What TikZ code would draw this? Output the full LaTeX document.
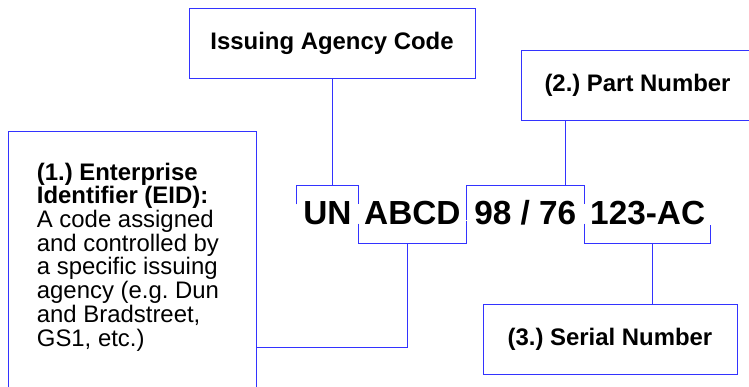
\documentclass[tikz,border=0pt]{standalone}
\usepackage{fontspec}
\setmainfont{Liberation Sans}
\usepackage{tikz}
\usetikzlibrary{positioning}
\definecolor{LBlue}{HTML}{3333FF}

\begin{document}
\frenchspacing
\begin{tikzpicture}[x=1bp,y=-1bp,
  box/.style={draw=LBlue,line width=1bp,minimum height=70bp,inner sep=0pt,
    font=\fontsize{24}{28}\selectfont\bfseries},
  code/.style={minimum height=58bp,inner sep=0pt,text height=23bp,text depth=3bp,
    font=\fontsize{33.5}{36}\selectfont\bfseries},
  wire/.style={draw=LBlue,line width=1bp}
]
  \useasboundingbox (0,0) rectangle (749,386);
  \clip (0,0) rectangle (749,386);
  % labelled boxes
  \node[box,anchor=north west,minimum width=286bp] (issuer) at (188.5,7.5) {Issuing Agency Code};
  \node[box,anchor=north west,minimum width=233bp] (part) at (520.5,49.5) {(2.) Part Number};
  \node[box,anchor=north west,minimum width=254bp] (serial) at (482.5,303.5) {(3.) Serial Number};
  \node[box,anchor=north west,minimum width=248bp,minimum height=280bp] (eid) at (7.5,130.5) {};
  \node[anchor=north west,inner sep=0pt,align=left,font=\fontsize{24}{23.8}\selectfont]
    (eidtxt) at (36.7,162.5) {\textbf{(1.) Enterprise}\\\textbf{Identifier (EID):}\\
    A code assigned\\and controlled by\\a specific issuing\\agency (e.g. Dun\\
    and Bradstreet,\\GS1, etc.)};
  % the code itself
  \node[code,minimum width=62bp] (un) at (327.5,214.5) {UN};
  \node[code,minimum width=107bp,right=0pt of un] (abcd) {ABCD};
  \node[code,minimum width=118bp,right=0pt of abcd] (pn) {98 / 76};
  \node[code,minimum width=126bp,right=0pt of pn] (sn) {123-AC};
  % brackets
  \draw[wire] ([yshift=-19bp]un.north west) -- (un.north west) -- (un.north east)
    -- ([yshift=-19bp]un.north east);
  \draw[wire] ([yshift=20bp]abcd.south west) -- (abcd.south west) -- (abcd.south east)
    -- ([yshift=23bp]abcd.south east);
  \draw[wire] ([yshift=-35bp]pn.north west) -- (pn.north west) -- (pn.north east)
    -- ([yshift=-19bp]pn.north east);
  \draw[wire] ([yshift=20bp]sn.south west) -- (sn.south west) -- (sn.south east)
    -- ([yshift=19bp]sn.south east);
  % connectors
  \coordinate (ptap) at ([xshift=45bp]part.south west);
  \coordinate (stap) at ([xshift=5bp]sn.south);
  \coordinate (etap) at (407.5,347.5);
  \draw[wire] (issuer.south) -- (issuer.south |- un.north);
  \draw[wire] (ptap) -- (ptap |- pn.north);
  \draw[wire] (stap) -- (stap |- serial.north);
  \draw[wire] (etap |- abcd.south) -- (etap) -- (etap -| eid.east);
\end{tikzpicture}
\end{document}
